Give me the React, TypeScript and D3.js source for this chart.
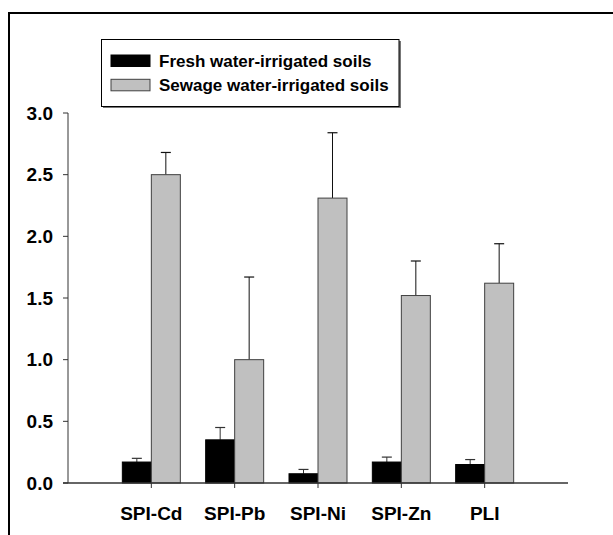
import React from "react";
import * as d3 from "d3";

// category labels along the x axis
const categories = ["SPI-Cd", "SPI-Pb", "SPI-Ni", "SPI-Zn", "PLI"];

// mean values and upper error (mean + sd)
const freshValues = [0.17, 0.35, 0.075, 0.17, 0.15];
const freshErrors = [0.03, 0.1, 0.035, 0.04, 0.04];
const sewageValues = [2.5, 1.0, 2.31, 1.52, 1.62];
const sewageErrors = [0.18, 0.67, 0.53, 0.28, 0.32];

const yTicks = [0, 0.5, 1.0, 1.5, 2.0, 2.5, 3.0];
const seriesNames = ["Fresh water-irrigated soils", "Sewage water-irrigated soils"];

const App = () => {
  const width = 613;
  const height = 535;
  const margin = { top: 113, left: 68, bottom: 52, right: 45 };

  // x positions: categories at 1..5 on a 0..6 scale
  const xScale = d3
    .scaleLinear()
    .domain([0, categories.length + 1])
    .range([margin.left, width - margin.right]);

  const yScale = d3
    .scaleLinear()
    .domain([0, 3])
    .range([height - margin.bottom, margin.top]);

  const barWidth = 29;
  const capWidth = 10;
  const font = "Arial, 'Liberation Sans', sans-serif";

  const series = [
    { values: freshValues, errors: freshErrors, fill: "#000000", stroke: "#000000", err: "#333333", offset: -1 },
    { values: sewageValues, errors: sewageErrors, fill: "#c0c0c0", stroke: "#404040", err: "#111111", offset: 0 },
  ];

  const y0 = yScale(0);

  return (
    <svg width={width} height={height} style={{ position: "absolute", left: 0, top: 0 }}>
      {/* outer frame, cut by the window on the right and bottom */}
      <rect x={9} y={13} width={width} height={height} fill="white" stroke="black" strokeWidth={2} />

      {/* bars with error bars */}
      {series.map((s, si) =>
        s.values.map((v, i) => {
          const cx = xScale(i + 1);
          const x = cx + s.offset * barWidth;
          const mid = x + barWidth / 2;
          const top = yScale(v + s.errors[i]);
          return (
            <g key={`${si}-${i}`}>
              <line x1={mid} x2={mid} y1={yScale(v)} y2={top} stroke={s.err} strokeWidth={1} />
              <line x1={mid - capWidth / 2} x2={mid + capWidth / 2} y1={top} y2={top} stroke={s.err} strokeWidth={1.2} />
              <rect
                x={x}
                y={yScale(v)}
                width={barWidth}
                height={y0 - yScale(v)}
                fill={s.fill}
                stroke={s.stroke}
                strokeWidth={1}
              />
            </g>
          );
        })
      )}

      {/* y axis */}
      <line x1={margin.left} x2={margin.left} y1={yScale(3)} y2={y0} stroke="#333" strokeWidth={1} />
      {yTicks.map((t) => (
        <g key={t}>
          <line x1={margin.left - 5} x2={margin.left} y1={yScale(t)} y2={yScale(t)} stroke="#333" strokeWidth={1} />
          <text
            x={margin.left - 15}
            y={yScale(t)}
            textAnchor="end"
            dominantBaseline="central"
            fontFamily={font}
            fontWeight="bold"
            fontSize={19}
          >
            {t.toFixed(1)}
          </text>
        </g>
      ))}

      {/* x axis */}
      <line x1={margin.left - 5} x2={width - margin.right} y1={y0} y2={y0} stroke="#333" strokeWidth={1.6} />
      {categories.map((c, i) => (
        <g key={c}>
          <line x1={xScale(i + 1)} x2={xScale(i + 1)} y1={y0} y2={y0 + 5} stroke="#333" strokeWidth={1} />
          <text
            x={xScale(i + 1)}
            y={520}
            textAnchor="middle"
            fontFamily={font}
            fontWeight="bold"
            fontSize={19}
          >
            {c}
          </text>
        </g>
      ))}

      {/* legend */}
      <rect x={103} y={41} width={298} height={67} fill="#777" />
      <rect x={101.5} y={39.5} width={297.5} height={67} fill="white" stroke="black" strokeWidth={1} />
      {series.map((s, si) => (
        <g key={seriesNames[si]}>
          <rect
            x={111}
            y={55 + si * 24.3}
            width={39}
            height={11.5}
            fill={s.fill}
            stroke={s.stroke}
            strokeWidth={1}
          />
          <text x={159} y={67 + si * 24} fontFamily={font} fontWeight="bold" fontSize={17}>
            {seriesNames[si]}
          </text>
        </g>
      ))}
    </svg>
  );
};

export default App;
